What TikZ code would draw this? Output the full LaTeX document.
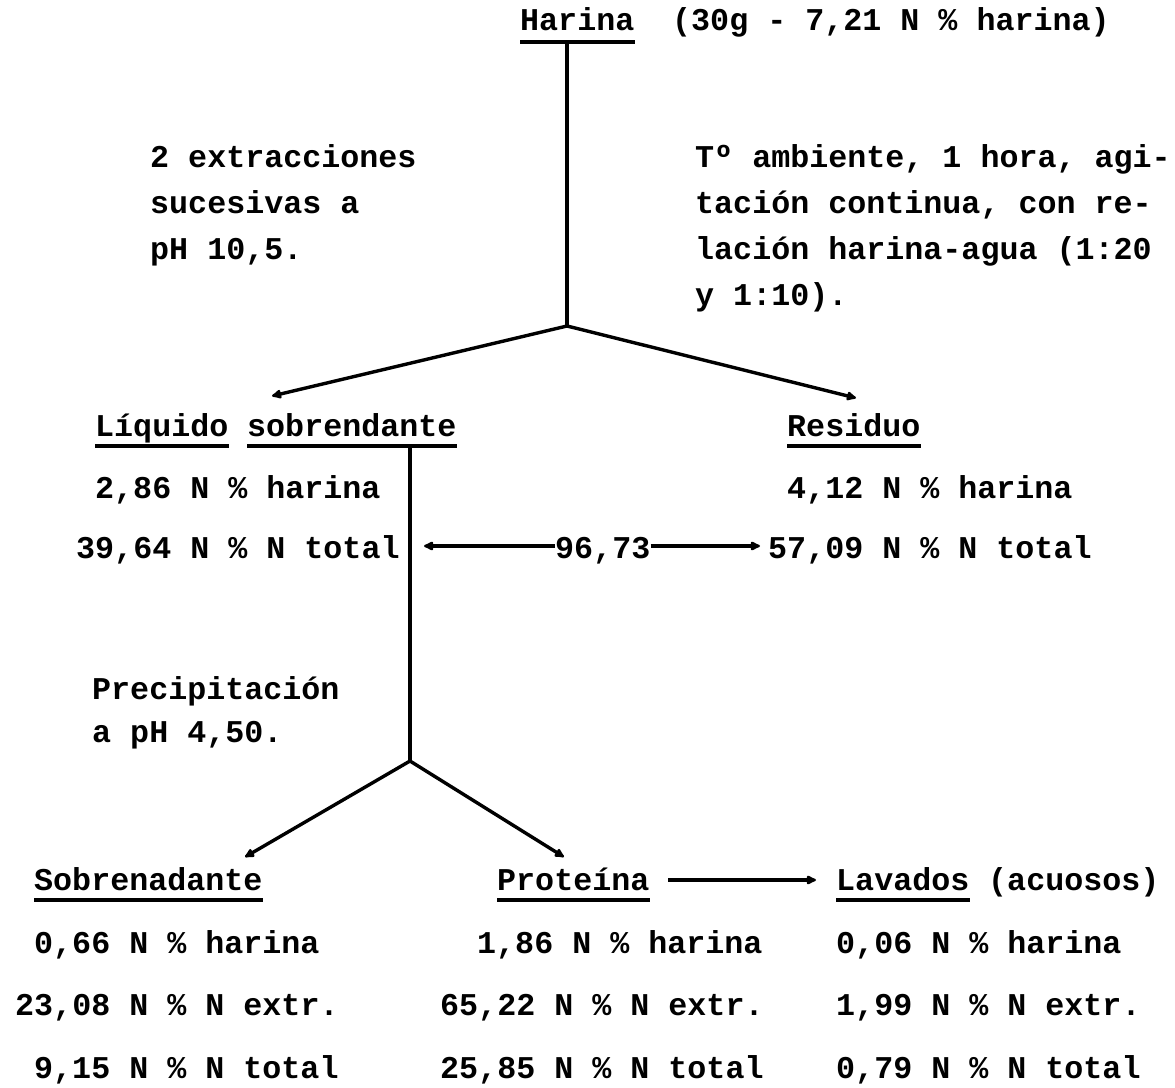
\documentclass[tikz,border=0pt]{standalone}
\usepackage{fontspec}
\setmainfont{Liberation Mono}
\usetikzlibrary{arrows.meta}
\begin{document}
\begin{tikzpicture}[x=1pt,y=-1pt,
  txt/.style={anchor=base west, inner sep=0pt, font=\fontsize{31.7}{38}\selectfont\bfseries},
  ul/.style={line width=4pt},
  link/.style={line width=3.4pt},
  arr/.style={line width=3.4pt,-{Latex[round,length=12pt,width=11pt]}},
]
\useasboundingbox[fill=white] (0,0) rectangle (1175,1087);

% top
\node[txt] (harina) at (520,30) {Harina};
\node[txt] (harinainfo) at (672,30) {(30g - 7,21 N \% harina)};
\draw[ul] ([yshift=-12pt]harina.base west) -- ([yshift=-12pt]harina.base east);

\node[txt] (ext1) at (150,167) {2 extracciones};
\node[txt] (ext2) at (150,213) {sucesivas a};
\node[txt] (ext3) at (150,259) {pH 10,5.};

\node[txt] (cond1) at (695,167) {Tº ambiente, 1 hora, agi-};
\node[txt] (cond2) at (695,213) {tación continua, con re-};
\node[txt] (cond3) at (695,259) {lación harina-agua (1:20};
\node[txt] (cond4) at (695,305) {y 1:10).};

\coordinate (j1) at (567,326);
\coordinate (h0) at (567,44);
\coordinate (tipL) at (272,396);
\coordinate (tipR) at (856,398);
\draw[link] (h0) -- (j1);
\draw[arr] (j1) -- (tipL);
\draw[arr] (j1) -- (tipR);

% middle
\node[txt] (liq) at (95,436) {Líquido};
\node[txt] (sob) at (247,436) {sobrendante};
\node[txt] (res) at (787,436) {Residuo};
\foreach \n in {liq,sob,res}
  \draw[ul] ([yshift=-10pt]\n.base west) -- ([yshift=-10pt]\n.base east);

\node[txt] (liq1) at (95,498) {2,86 N \% harina};
\node[txt] (liq2) at (76,558) {39,64 N \% N total};
\node[txt] (res1) at (787,498) {4,12 N \% harina};
\node[txt] (res2) at (768,558) {57,09 N \% N total};
\node[txt] (n96) at (555,558) {96,73};

\coordinate (s1) at (410,446);
\coordinate (j2) at (410,761);
\coordinate (aL) at (424,546);
\draw[link] (s1) -- (j2);
\draw[arr] (n96.west |- aL) -- (aL);
\draw[arr] (n96.east |- aL) -- ([xshift=-8pt]res2.west |- aL);

\node[txt] (prec1) at (92,699) {Precipitación};
\node[txt] (prec2) at (92,742) {a pH 4,50.};

% bottom
\coordinate (tipSL) at (245,857);
\coordinate (tipSR) at (564,857);
\draw[arr] (j2) -- (tipSL);
\draw[arr] (j2) -- (tipSR);

\node[txt] (sobre) at (34,890) {Sobrenadante};
\node[txt] (prot) at (497,890) {Proteína};
\node[txt] (lav) at (836,890) {Lavados};
\node[txt] (lav2) at (988,890) {(acuosos)};
\foreach \n in {sobre,prot,lav}
  \draw[ul] ([yshift=-10pt]\n.base west) -- ([yshift=-10pt]\n.base east);
\coordinate (pa) at (668,880);
\coordinate (pb) at (816,880);
\draw[arr] (pa) -- (pb);

\node[txt] (a1) at (34,953) {0,66 N \% harina};
\node[txt] (a2) at (15,1015) {23,08 N \% N extr.};
\node[txt] (a3) at (34,1078) {9,15 N \% N total};
\node[txt] (b1) at (477,953) {1,86 N \% harina};
\node[txt] (b2) at (440,1015) {65,22 N \% N extr.};
\node[txt] (b3) at (440,1078) {25,85 N \% N total};
\node[txt] (c1) at (836,953) {0,06 N \% harina};
\node[txt] (c2) at (836,1015) {1,99 N \% N extr.};
\node[txt] (c3) at (836,1078) {0,79 N \% N total};
\end{tikzpicture}
\end{document}
